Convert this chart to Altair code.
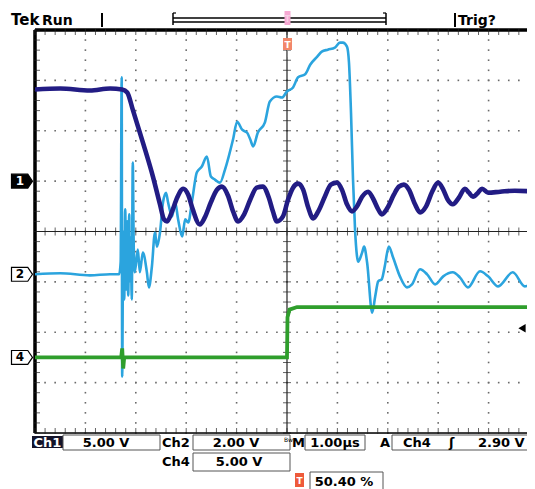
import altair as alt
import pandas as pd
import numpy as np

# ---- trace data: time in µs (0 = trigger), screen position in divisions ----
ch1_t = [-5.00, -4.50, -3.91, -3.51, -3.27, -3.17, -3.06, -2.86, -2.66, -2.52, -2.44, -2.38, -2.28, -2.18,
         -2.06, -1.96, -1.87, -1.73, -1.63, -1.51, -1.39, -1.29, -1.17, -1.07, -0.97, -0.85, -0.73, -0.60,
         -0.48, -0.36, -0.28, -0.20, -0.08, 0.02, 0.12, 0.22, 0.32, 0.42, 0.52, 0.62, 0.75, 0.87, 0.99,
         1.09, 1.19, 1.29, 1.39, 1.49, 1.61, 1.71, 1.81, 1.88, 2.00, 2.12, 2.22, 2.32, 2.42, 2.54, 2.64,
         2.76, 2.88, 3.00, 3.10, 3.19, 3.29, 3.41, 3.53, 3.61, 3.69, 3.79, 3.87, 3.99, 4.23, 4.52, 4.92]
ch1_d = [2.82, 2.84, 2.80, 2.84, 2.82, 2.76, 2.42, 1.77, 1.09, 0.54, 0.24, 0.20, 0.40, 0.67,
         0.85, 0.73, 0.44, 0.14, 0.28, 0.58, 0.83, 0.89, 0.71, 0.40, 0.20, 0.34, 0.63, 0.87,
         0.89, 0.67, 0.40, 0.20, 0.30, 0.63, 0.87, 0.95, 0.83, 0.48, 0.26, 0.40, 0.69, 0.93, 0.97,
         0.83, 0.54, 0.40, 0.50, 0.69, 0.79, 0.65, 0.44, 0.34, 0.48, 0.73, 0.89, 0.93, 0.83, 0.54, 0.38,
         0.50, 0.79, 0.97, 0.83, 0.63, 0.54, 0.67, 0.85, 0.77, 0.69, 0.77, 0.85, 0.77, 0.79, 0.81, 0.79]

ch2_t = [-5.00, -4.50, -3.91, -3.51, -3.33, -3.30, -3.28, -3.27, -3.25, -3.23, -3.21, -3.19, -3.17, -3.15,
         -3.13, -3.12, -3.10, -3.08, -3.06, -3.04, -3.02, -2.96, -2.92, -2.86, -2.78, -2.74, -2.68, -2.62,
         -2.58, -2.52, -2.46, -2.40, -2.36, -2.28, -2.22, -2.16, -2.08, -2.02, -1.96, -1.88, -1.79, -1.69,
         -1.59, -1.51, -1.43, -1.33, -1.23, -1.07, -0.99, -0.89, -0.79, -0.73, -0.67, -0.58, -0.44, -0.34,
         -0.20, -0.10, 0.00, 0.12, 0.22, 0.36, 0.46, 0.60, 0.69, 0.81, 0.95, 1.05, 1.11, 1.19, 1.23, 1.27,
         1.31, 1.35, 1.39, 1.41, 1.49, 1.53, 1.59, 1.69, 1.75, 1.81, 1.88, 1.94, 2.02, 2.10, 2.24, 2.38,
         2.48, 2.64, 2.78, 2.94, 3.10, 3.29, 3.43, 3.59, 3.83, 3.99, 4.19, 4.48, 4.72, 4.92]
ch2_d = [-0.85, -0.83, -0.87, -0.85, -0.85, -0.60, 3.06, -2.88, 0.00, -1.35, 0.44, -1.15, 0.20, -1.27,
         0.34, -0.99, -0.12, -1.35, 1.37, -0.36, -0.81, -0.36, -0.81, -0.42, -0.81, -1.11, -0.69, -0.02,
         -0.30, -0.02, 0.58, 0.77, 0.58, 0.30, 0.58, 0.24, -0.10, 0.24, 0.18, 0.63, 1.17, 1.29,
         1.49, 1.09, 1.03, 0.97, 1.23, 1.83, 2.18, 2.02, 1.96, 1.83, 1.69, 1.96, 2.16, 2.58,
         2.68, 2.66, 2.78, 2.86, 3.06, 3.12, 3.31, 3.47, 3.57, 3.61, 3.65, 3.75, 3.75, 3.67, 3.35, 2.36,
         1.03, 0.04, -0.50, -0.60, -0.42, -0.30, -0.62, -1.61, -1.29, -0.99, -0.95, -0.69, -0.30, -0.50, -0.89, -1.11,
         -1.05, -0.75, -0.85, -1.05, -0.89, -0.81, -0.91, -1.11, -0.79, -0.89, -1.09, -0.81, -1.09, -0.95]

ch4_t = [-5.00, -3.29, -3.27, -3.25, -3.23, 0.00, 0.01, 0.05, 0.20, 4.92]
ch4_d = [-2.50, -2.50, -2.32, -2.72, -2.50, -2.50, -1.70, -1.55, -1.50, -1.50]

# channel ground markers and trigger level (divisions)
marker_names = ["1", "2", "4"]
marker_levels = [1.00, -0.85, -2.50]
trigger_level = [-1.92]

# readout text
header_left = ["Tek", "Run"]
header_right = "Trig?"
ch1_scale = "5.00 V"
ch2_scale = "2.00 V"
ch4_scale = "5.00 V"
time_scale = "1.00µs"
trig_source = "Ch4"
trig_value = "2.90 V"
trig_pos = "50.40 %"

C1 = "#221c84"
C2 = "#2ba4de"
C4 = "#2f9e2c"
FONT = "DejaVu Sans"

X = alt.Scale(domain=[-5, 4.762], nice=False, zero=False)
Y = alt.Scale(domain=[-4, 4], nice=False, zero=False)


def xe(field="t"):
    return alt.X(f"{field}:Q", scale=X, axis=None)


def ye(field="d"):
    return alt.Y(f"{field}:Q", scale=Y, axis=None)


def one():
    return pd.DataFrame({"a": [0]})


def txt(s, x, y, size=13, color="black", align="left", weight="bold"):
    return alt.Chart(pd.DataFrame({"s": [s]})).mark_text(
        align=align, baseline="alphabetic", fontSize=size, font=FONT,
        fontWeight=weight, color=color).encode(x=alt.value(x), y=alt.value(y), text="s:N")


def box(x1, x2, y1, y2, fill="white", stroke=None, sw=1.0):
    kw = dict(fill=fill)
    if stroke:
        kw.update(stroke=stroke, strokeWidth=sw)
    return alt.Chart(one()).mark_rect(**kw).encode(
        x=alt.value(x1), x2=alt.value(x2), y=alt.value(y1), y2=alt.value(y2))


def seg(x1, x2, y1, y2, color="black", sw=1.0):
    return alt.Chart(one()).mark_rule(color=color, strokeWidth=sw).encode(
        x=alt.value(x1), x2=alt.value(x2), y=alt.value(y1), y2=alt.value(y2))


layers = []

# ---- graticule dots ----
minor_d = np.round(np.arange(-4, 4.001, 0.2), 2)
minor_t = np.round(np.arange(-5, 4.77, 0.2), 2)
dots = []
for tv in [-4, -3, -2, -1, 1, 2, 3, 4]:
    for dv in minor_d:
        dots.append((tv, dv))
for dv in [-3, -2, -1, 1, 2, 3]:
    for tv in minor_t:
        dots.append((tv, dv))
dots_df = pd.DataFrame(dots, columns=["t", "d"])
layers.append(alt.Chart(dots_df).mark_square(size=2.6, color="#6a6a6a", opacity=1).encode(x=xe(), y=ye()))

# center axes
layers.append(alt.Chart(pd.DataFrame({"d": [0]})).mark_rule(color="#222", strokeWidth=1.2).encode(y=ye()))
layers.append(alt.Chart(pd.DataFrame({"t": [0]})).mark_rule(color="#222", strokeWidth=1.2).encode(x=xe()))
tick_h = pd.DataFrame({"t": minor_t, "d": 0.0})
tick_v = pd.DataFrame({"t": 0.0, "d": minor_d})
layers.append(alt.Chart(tick_h).mark_tick(orient="vertical", size=8, thickness=1, color="#222").encode(x=xe(), y=ye()))
layers.append(alt.Chart(tick_v).mark_tick(orient="horizontal", size=8, thickness=1, color="#222").encode(x=xe(), y=ye()))

# frame
layers.append(alt.Chart(pd.DataFrame({"d": [4]})).mark_rule(color="black", strokeWidth=3.5).encode(y=ye()))
layers.append(alt.Chart(pd.DataFrame({"d": [-4]})).mark_rule(color="black", strokeWidth=1.5).encode(y=ye()))
layers.append(alt.Chart(pd.DataFrame({"t": [-5]})).mark_rule(color="black", strokeWidth=3.5).encode(x=xe()))
layers.append(alt.Chart(pd.DataFrame({"t": minor_t, "d": 4.0})).mark_tick(
    orient="vertical", size=6, thickness=1, color="#222", yOffset=2).encode(x=xe(), y=ye()))
layers.append(alt.Chart(pd.DataFrame({"t": minor_t, "d": -4.0})).mark_tick(
    orient="vertical", size=6, thickness=1, color="#222", yOffset=-2).encode(x=xe(), y=ye()))
layers.append(alt.Chart(pd.DataFrame({"t": -5.0, "d": minor_d})).mark_tick(
    orient="horizontal", size=6, thickness=1, color="#222", xOffset=2).encode(x=xe(), y=ye()))

# ---- traces ----
df2 = pd.DataFrame({"t": ch2_t, "d": ch2_d})
df4 = pd.DataFrame({"t": ch4_t, "d": ch4_d})
df1 = pd.DataFrame({"t": ch1_t, "d": ch1_d})
layers.append(alt.Chart(df2).mark_line(color=C2, strokeWidth=2.6, interpolate="monotone", clip=True).encode(x=xe(), y=ye()))
layers.append(alt.Chart(df4).mark_line(color=C4, strokeWidth=3.8, clip=True).encode(x=xe(), y=ye()))
layers.append(alt.Chart(df1).mark_line(color=C1, strokeWidth=4.6, interpolate="monotone", clip=True).encode(x=xe(), y=ye()))

# ---- channel markers ----
mk = pd.DataFrame({"n": marker_names, "d": marker_levels,
                   "f": ["black", "white", "white"], "c": ["white", "black", "black"]})
shape = "M-1,-0.66 L0.55,-0.66 L1,0 L0.55,0.66 L-1,0.66 Z"
layers.append(alt.Chart(mk).mark_point(shape=shape, size=441, filled=True, opacity=1,
                                       stroke="black", strokeWidth=1.2).encode(
    x=alt.value(-13), y=ye(), fill=alt.Fill("f:N", scale=None)))
layers.append(alt.Chart(mk).mark_text(font=FONT, fontWeight="bold", fontSize=12, baseline="middle", dx=-2).encode(
    x=alt.value(-13), y=ye(), text="n:N", color=alt.Color("c:N", scale=None)))

# trigger level arrow
layers.append(alt.Chart(pd.DataFrame({"d": trigger_level})).mark_point(
    shape="triangle-left", filled=True, size=70, color="black", opacity=1).encode(x=alt.value(487), y=ye()))

# trigger position marker
layers.append(box(248, 257, 8, 20, fill="#f2876a"))
layers.append(txt("T", 252.5, 18, size=9, color="white", align="center"))
layers.append(seg(252.5, 252.5, 20, 27, color="#888", sw=1))

# ---- header ----
layers.append(txt(header_left[0], -24, -5, size=15))
layers.append(txt(header_left[1], 7, -5, size=14))
layers.append(seg(67, 67, -17, -3, sw=2))
layers.append(seg(138, 138, -17, -5, sw=1.5))
layers.append(seg(351, 351, -17, -5, sw=1.5))
layers.append(seg(138, 141, -17, -17, sw=1.2))
layers.append(seg(348, 351, -17, -17, sw=1.2))
layers.append(seg(138, 351, -12, -12, sw=1.3))
layers.append(seg(138, 351, -8, -8, sw=1.3))
layers.append(box(249.5, 255.5, -19, -5, fill="#f6a9d3"))
layers.append(txt("T", 252.5, -8, size=8, color="#f6d0e6", align="center"))
layers.append(seg(420, 420, -17, -3, sw=2))
layers.append(txt(header_right, 423, -5, size=14))

# ---- footer readouts ----
layers.append(box(-3, 28, 406, 418, fill="#14142a"))
layers.append(txt("Ch1", 12.5, 417, color="white", align="center"))
layers.append(box(28, 125, 405, 420, stroke="#555"))
layers.append(txt(ch1_scale, 71, 417, align="center"))
layers.append(txt("Ch2", 127, 417))
layers.append(box(158, 255, 405, 420, stroke="#555"))
layers.append(txt(ch2_scale, 201, 417, align="center"))
layers.append(txt("Bw", 249, 412, size=6, weight="normal"))
layers.append(txt("M", 257, 417))
layers.append(box(270, 330, 405, 420, stroke="#555"))
layers.append(txt(time_scale, 300, 417, align="center"))
layers.append(txt("A", 345, 417))
layers.append(box(357, 510, 405, 420, stroke="#555"))
layers.append(txt(trig_source, 368, 417))
layers.append(txt("ʃ", 414, 417))
layers.append(txt(trig_value, 443, 417))

layers.append(txt("Ch4", 127, 436))
layers.append(box(158, 255, 423, 441, stroke="#555"))
layers.append(txt(ch4_scale, 204, 436, align="center"))

layers.append(box(260, 269, 443, 457, fill="#ee5a3a"))
layers.append(txt("T", 264.5, 454, size=9, color="white", align="center"))
layers.append(box(275, 348, 442, 462, stroke="#555"))
layers.append(txt(trig_pos, 309, 456, align="center"))

chart = alt.layer(*layers).properties(
    width=492, height=403,
    padding={"left": 27, "top": 22, "right": 0, "bottom": 56},
    autosize="none",
).configure_view(stroke=None).configure(background="white")

chart.save("out.html", embed_options={"renderer": "svg", "actions": False})
